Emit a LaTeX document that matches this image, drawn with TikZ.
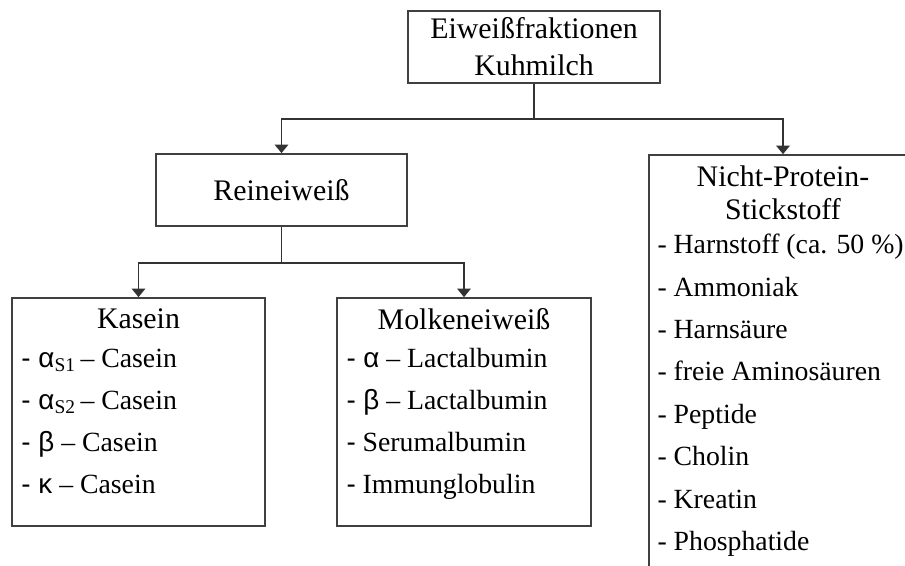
\documentclass[tikz,border=0pt]{standalone}
\usepackage{fontspec}
\setmainfont{Liberation Serif}
\newfontfamily\grk{Liberation Sans}
\usetikzlibrary{calc,arrows.meta}
\tikzset{
  box/.style={draw=black!75, line width=1pt, inner sep=0pt, align=center},
  conn/.style={draw=black!80, line width=0.9pt},
  arr/.style={conn, -{Triangle[length=1.7mm,width=2.7mm]}},
  head/.style={inner sep=0pt, align=center},
  item/.style={anchor=west, inner sep=0pt, text height=11pt, text depth=3.5pt,
    font=\fontsize{15.8}{19}\selectfont}
}

\begin{document}
\begin{tikzpicture}[x=0.02cm, y=-0.02cm, font=\fontsize{17}{21}\selectfont]
			%%%%% START %%%%%
			\useasboundingbox (0,0) rectangle (905,565);
			\clip (0,0) rectangle (905,565);
			
			\node[box, minimum width=5.04cm, minimum height=1.44cm] (top) at (534,47) {Eiweißfraktionen\\Kuhmilch};
			\node[box, minimum width=5.02cm, minimum height=1.44cm] (rein) at (281.5,190) {Reineiweiß};
			\node[box, minimum width=5.06cm, minimum height=4.56cm] (kasein) at (138.5,412) {};
			\node[box, minimum width=5.08cm, minimum height=4.56cm] (molke) at (464,412) {};
			\node[box, minimum width=5.36cm, minimum height=8.9cm] (npn) at (783,377.5) {};
			
			\coordinate (fork1) at ($(top.south)+(0,35)$);
			\coordinate (fork2) at ($(rein.south)+(0,36)$);
			\draw[conn] (top.south) -- (fork1);
			\draw[arr] (fork1) -| (rein.north);
			\draw[arr] (fork1) -| (npn.north);
			\draw[conn] (rein.south) -- (fork2);
			\draw[arr] (fork2) -| (kasein.north);
			\draw[arr] (fork2) -| (molke.north);
			
			\node[head] (kaseinhead) at ($(kasein.north)+(0,22)$) {Kasein};
			\foreach \txt [count=\i] in {{{\grk- α}\textsubscript{S1}\,– Casein},{{\grk- α}\textsubscript{S2}\,– Casein},{{\grk- β} – Casein},{{\grk- κ} – Casein}}
				\node[item] (kasein\i) at ($(kasein.north west)+(10,22+42*\i)$) {\txt};
			
			\node[head] (molkehead) at ($(molke.north)+(0,22)$) {Molkeneiweiß};
			\foreach \txt [count=\i] in {{{\grk- α} – Lactalbumin},{{\grk- β} – Lactalbumin},{{\grk-} Serumalbumin},{{\grk-} Immunglobulin}}
				\node[item] (molke\i) at ($(molke.north west)+(10,22+42*\i)$) {\txt};
			
			\node[head, font=\fontsize{17}{18.8}\selectfont] (npnhead) at ($(npn.north)+(0,38.5)$) {Nicht-Protein-\\Stickstoff};
			\foreach \txt [count=\i] in {Harnstoff (ca. 50 \%),Ammoniak,Harnsäure,freie Aminosäuren,Peptide,Cholin,Kreatin,Phosphatide}
				\node[item] (npn\i) at ($(npn.north west)+(9,50.6+42.4*\i)$) {- \txt};
			%%%%% END %%%%%
\end{tikzpicture}
\end{document}
